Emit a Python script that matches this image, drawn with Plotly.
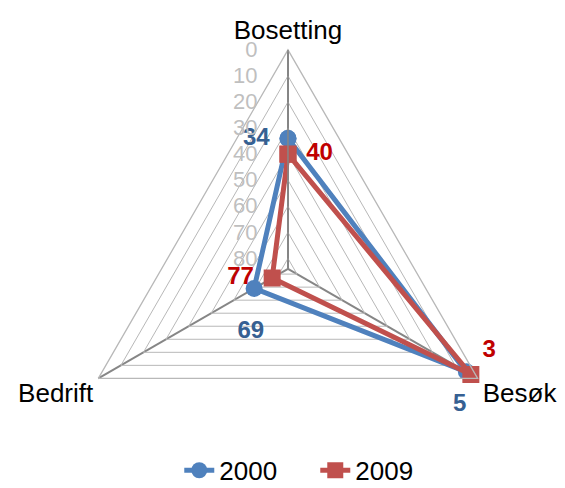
import plotly.graph_objects as go

categories = ["Bosetting", "Besøk", "Bedrift"]
values_2000 = [34, 5, 69]
values_2009 = [40, 3, 77]
series_names = ["2000", "2009"]
radial_ticks = [0, 10, 20, 30, 40, 50, 60, 70, 80]

FONT = "Arial, Liberation Sans, sans-serif"
BLUE = "#4F81BD"
RED = "#C0504D"

def closed(v):
    return list(v) + [v[0]]

labels_2000 = [f"{values_2000[0]} ", f"{values_2000[1]}  ", f"{values_2000[2]} "]
labels_2009 = [f" {values_2009[0]}", f"{values_2009[1]}", f"{values_2009[2]} "]

fig = go.Figure()
fig.add_trace(go.Scatterpolar(
    r=closed(values_2000), theta=closed(categories), name=series_names[0],
    mode="lines+markers",
    line=dict(color=BLUE, width=5),
    marker=dict(symbol="circle", size=17, color=BLUE),
    cliponaxis=False,
))
fig.add_trace(go.Scatterpolar(
    r=closed(values_2009), theta=closed(categories), name=series_names[1],
    mode="lines+markers",
    line=dict(color=RED, width=5),
    marker=dict(symbol="square", size=17, color=RED),
    cliponaxis=False,
))
# data labels (invisible markers only set the label offset)
fig.add_trace(go.Scatterpolar(
    r=values_2000, theta=categories, mode="markers+text", showlegend=False,
    hoverinfo="skip", text=labels_2000,
    textposition=["middle left", "bottom center", "bottom center"],
    textfont=dict(family=FONT, size=24, color="#366092", weight="bold"),
    marker=dict(size=[17, 33, 49], opacity=0, color=BLUE),
    cliponaxis=False,
))
fig.add_trace(go.Scatterpolar(
    r=values_2009, theta=categories, mode="markers+text", showlegend=False,
    hoverinfo="skip", text=labels_2009,
    textposition=["middle right", "top right", "middle left"],
    textfont=dict(family=FONT, size=24, color="#C00000", weight="bold"),
    marker=dict(size=[17, 17, 17], opacity=0, color=RED),
    cliponaxis=False,
))

fig.update_layout(
    width=565, height=488,
    margin=dict(l=0, r=0, t=0, b=0, autoexpand=False),
    paper_bgcolor="white",
    font=dict(family=FONT, size=26, color="black"),
    showlegend=True,
    legend=dict(orientation="h", x=0.558, xanchor="center", y=-0.012, yanchor="bottom",
                entrywidth=91, entrywidthmode="pixels",
                font=dict(family=FONT, size=26, color="black"), bgcolor="rgba(0,0,0,0)"),
    polar=dict(
        domain=dict(x=[0.1221, 0.8973], y=[0.0, 0.898]),
        bgcolor="white",
        gridshape="linear",
        radialaxis=dict(
            range=[84, 0], tickvals=radial_ticks, angle=90, tickangle=90,
            side="counterclockwise",
            showline=True, linecolor="#868686", linewidth=1.5,
            gridcolor="#B8B8B8", gridwidth=1.3,
            ticks="outside", ticklen=22, tickcolor="rgba(0,0,0,0)",
            tickfont=dict(family=FONT, size=22, color="#BFBFBF"),
        ),
        angularaxis=dict(
            direction="clockwise", rotation=90,
            showline=True, linecolor="#B8B8B8", linewidth=1.3,
            gridcolor="#868686", gridwidth=1.5,
            ticks="", tickfont=dict(family=FONT, size=26, color="black"),
        ),
    ),
)

fig.write_html("out.html", config={"displayModeBar": False},
               post_script="document.body.style.margin='0';document.body.style.overflow='hidden';")
